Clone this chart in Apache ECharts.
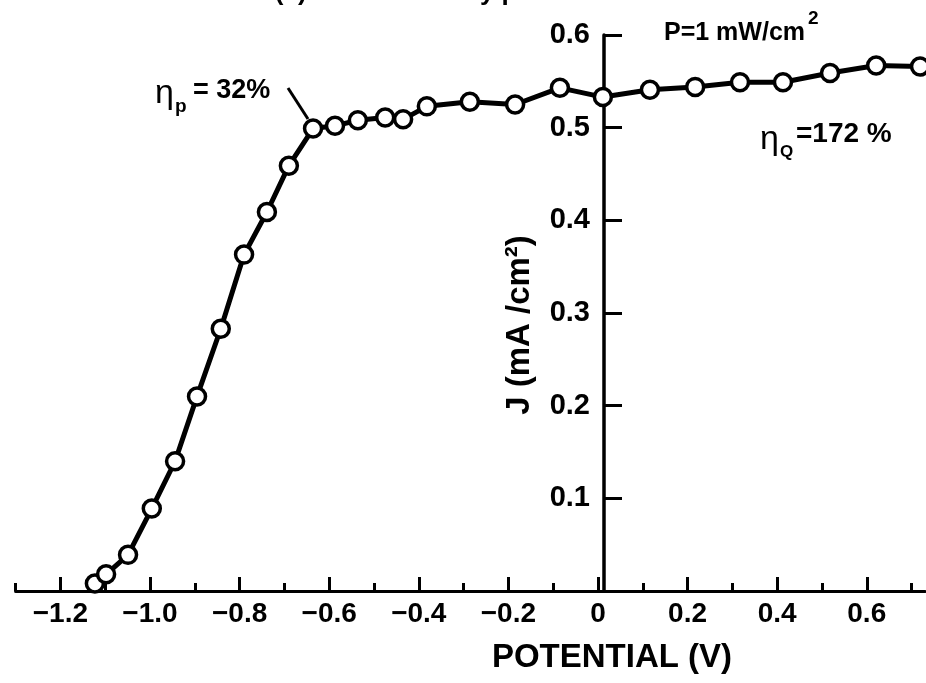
<!DOCTYPE html>
<html>
<head>
<meta charset="utf-8">
<title>J-V</title>
<script src="https://cdn.jsdelivr.net/npm/echarts@6/dist/echarts.min.js"></script>
<style>
  html, body { margin: 0; padding: 0; background: #fff; }
  #chart { width: 926px; height: 683px; }
</style>
</head>
<body>
<div id="chart"></div>
<script>
// 数据 (从图上读出来的)
const potential = [-1.123, -1.098, -1.049, -0.996, -0.944, -0.895, -0.842, -0.790, -0.739, -0.690,
  -0.636, -0.587, -0.536, -0.475, -0.435, -0.382, -0.286, -0.185, -0.085, 0.011,
  0.116, 0.217, 0.317, 0.413, 0.518, 0.621, 0.719];
const current = [0.008, 0.018, 0.039, 0.089, 0.140, 0.210, 0.283, 0.363, 0.409, 0.459,
  0.499, 0.502, 0.508, 0.511, 0.509, 0.523, 0.528, 0.525, 0.543, 0.533,
  0.541, 0.544, 0.549, 0.549, 0.559, 0.567, 0.566];

// 刻度
const potentialMajor = [-1.2, -1.0, -0.8, -0.6, -0.4, -0.2, 0, 0.2, 0.4, 0.6];
const potentialMinor = [-1.3, -1.1, -0.9, -0.7, -0.5, -0.3, -0.1, 0.1, 0.3, 0.5, 0.7];
const currentTicks = [0, 0.1, 0.2, 0.3, 0.4, 0.5, 0.6];

const font = "'Liberation Sans', Arial, sans-serif";

const chart = echarts.init(document.getElementById('chart'), null, { renderer: 'canvas' });

function fmtV(v) {
  if (Math.abs(v) < 1e-9) return '0';
  return (v < 0 ? '\u2212' : '') + Math.abs(v).toFixed(1);
}

// 文字小工具
function txt(x, y, s, size, opt) {
  opt = opt || {};
  return {
    type: 'text', x: x, y: y, rotation: opt.rotation || 0,
    style: {
      text: s, fontSize: size, fontWeight: opt.weight || 'bold', fontFamily: font, fill: '#000',
      align: opt.align || 'left', verticalAlign: opt.valign || 'middle'
    }
  };
}

const option = {
  backgroundColor: '#fff',
  animation: false,
  grid: [
    { left: 15.6, top: 35, width: 909.4, height: 556 },
    { left: 604, top: 35, width: 1, height: 556 }
  ],
  xAxis: [
    {
      gridIndex: 0, type: 'value', min: -1.3, max: 0.73,
      splitLine: { show: false },
      axisLine: { onZero: false, lineStyle: { color: '#000', width: 3 } },
      axisTick: { inside: true, length: 14, customValues: potentialMajor, lineStyle: { color: '#000', width: 3 } },
      axisLabel: {
        customValues: potentialMajor, margin: 9, color: '#000',
        fontSize: 28, fontWeight: 'bold', fontFamily: font,
        formatter: fmtV
      }
    },
    {
      // 小刻度
      gridIndex: 0, type: 'value', min: -1.3, max: 0.73, position: 'bottom',
      splitLine: { show: false },
      axisLine: { show: false, onZero: false },
      axisTick: { inside: true, length: 8, customValues: potentialMinor, lineStyle: { color: '#000', width: 3 } },
      axisLabel: { show: false }
    },
    { gridIndex: 1, type: 'value', show: false, min: 0, max: 1 }
  ],
  yAxis: [
    { gridIndex: 0, type: 'value', show: false, min: 0, max: 0.6 },
    {
      gridIndex: 1, type: 'value', min: 0, max: 0.6, position: 'left',
      splitLine: { show: false },
      axisLine: { onZero: false, lineStyle: { color: '#000', width: 3.5 } },
      axisTick: { inside: true, length: 18, customValues: currentTicks, lineStyle: { color: '#000', width: 3 } },
      axisLabel: {
        customValues: currentTicks, margin: 14, color: '#000',
        fontSize: 29, fontWeight: 'bold', fontFamily: font,
        formatter: function (v) { return v === 0 ? '' : v.toFixed(1); }
      }
    }
  ],
  series: [
    {
      type: 'line',
      xAxisIndex: 0, yAxisIndex: 0,
      data: potential.map(function (v, i) { return [v, current[i]]; }),
      symbol: 'circle',
      symbolSize: 17,
      lineStyle: { color: '#000', width: 5 },
      itemStyle: { color: '#fff', borderColor: '#000', borderWidth: 3.5 },
      z: 5
    }
  ],
  graphic: [
    txt(412, 6, '(a) Mott- Schottky plot', 26, { align: 'center', valign: 'bottom' }),
    txt(664, 33, 'P=1 mW/cm', 25),
    txt(808, 19, '2', 19),
    txt(155, 94, '\u03b7', 34, { weight: 'normal' }),
    txt(175, 107, 'p', 19),
    txt(193, 91, '= 32%', 27),
    { type: 'line', shape: { x1: 288, y1: 88, x2: 308, y2: 119 }, style: { stroke: '#000', lineWidth: 3 } },
    txt(760, 140, '\u03b7', 34, { weight: 'normal' }),
    txt(780, 152, 'Q', 17),
    txt(796, 134, '=172 %', 28),
    txt(612, 658, 'POTENTIAL (V)', 33, { align: 'center' }),
    txt(520, 325, 'J (mA /cm\u00b2)', 33, { align: 'center', rotation: Math.PI / 2 })
  ]
};

chart.setOption(option);
</script>
</body>
</html>
